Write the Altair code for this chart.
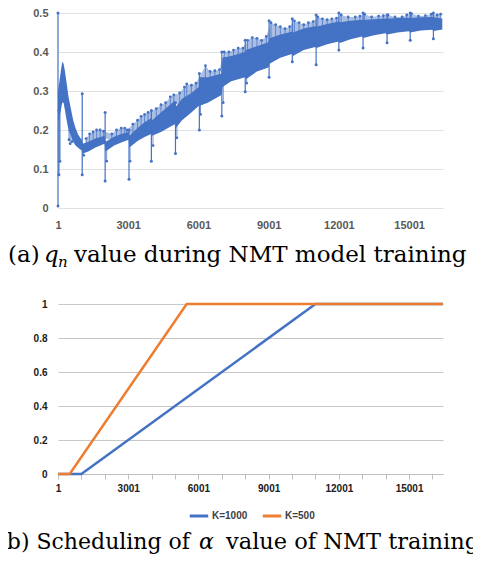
import altair as alt
import numpy as np
import pandas as pd

BLUE = "#4472C4"
ORANGE = "#ED7D31"

# ---------------- panel (a): q_n during training ----
band_step = [1, 50, 120, 180, 240, 300, 370, 450, 550, 650,
             750, 850, 950, 1020, 1050, 1300, 1600, 1990, 2030, 2400,
             2700, 3020, 3050, 3400, 3700, 3980, 4020, 4400, 4700, 4990,
             5040, 5300, 5700, 6020, 6060, 6400, 6700, 6990, 7030, 7400,
             7700, 7990, 8030, 8500, 8990, 9040, 9500, 9990, 10040, 10500,
             10990, 11040, 11500, 11990, 12040, 12500, 12990, 13040, 13500, 13990,
             14060, 14500, 14990, 15050, 15500, 15990, 16050, 16420]
band_lo = [0.22, 0.23, 0.25, 0.27, 0.27, 0.25, 0.225, 0.20, 0.185, 0.17,
           0.16, 0.155, 0.15, 0.148, 0.14, 0.145, 0.155, 0.165, 0.145, 0.16,
           0.168, 0.175, 0.155, 0.172, 0.182, 0.19, 0.185, 0.195, 0.205, 0.215,
           0.205, 0.225, 0.245, 0.262, 0.262, 0.27, 0.28, 0.29, 0.31, 0.325,
           0.33, 0.335, 0.33, 0.35, 0.36, 0.37, 0.385, 0.395, 0.39, 0.405,
           0.413, 0.41, 0.42, 0.427, 0.423, 0.433, 0.44, 0.436, 0.443, 0.448,
           0.445, 0.45, 0.453, 0.45, 0.455, 0.457, 0.454, 0.458]
band_hi = [0.30, 0.32, 0.35, 0.375, 0.37, 0.35, 0.32, 0.285, 0.255, 0.225,
           0.205, 0.19, 0.18, 0.175, 0.165, 0.17, 0.178, 0.185, 0.17, 0.183,
           0.19, 0.195, 0.185, 0.205, 0.22, 0.23, 0.225, 0.245, 0.26, 0.275,
           0.26, 0.28, 0.295, 0.31, 0.335, 0.335, 0.34, 0.345, 0.385, 0.39,
           0.395, 0.40, 0.405, 0.415, 0.425, 0.435, 0.445, 0.452, 0.45, 0.46,
           0.466, 0.465, 0.472, 0.478, 0.476, 0.48, 0.483, 0.482, 0.484, 0.486,
           0.485, 0.487, 0.488, 0.487, 0.489, 0.49, 0.489, 0.486]

# vertical jumps at epoch boundaries
jump_step = [1, 40, 80, 1035, 2015, 3035, 3990, 5020, 6040, 7000,
             8000, 9020, 10010, 11030, 12000, 13035, 14060, 15050, 16040]
jump_lo = [0.005, 0.085, 0.12, 0.085, 0.069, 0.074, 0.12, 0.14, 0.20, 0.236,
           0.298, 0.335, 0.375, 0.367, 0.405, 0.41, 0.424, 0.43, 0.434]
jump_hi = [0.5, 0.25, 0.28, 0.293, 0.245, 0.20, 0.25, 0.27, 0.345, 0.40,
           0.43, 0.48, 0.485, 0.495, 0.50, 0.50, 0.495, 0.50, 0.50]

# upward outliers
peak_step = [1200, 1350, 1500, 1650, 1800, 1950, 2300, 2500, 2700, 2850, 2950,
             3200, 3400, 3550, 3700, 3850, 4200, 4400, 4600, 4800, 4950,
             5200, 5400, 5500, 5700, 5900, 6300, 6500, 6700, 6900,
             7100, 7300, 7500, 7700, 7900, 8100, 8300, 8500, 8700, 8900,
             9100, 9300, 9500, 9700, 9900, 10100, 10300, 10500, 10700, 10900,
             11100, 11300, 11500, 11700, 11900, 12100, 12400, 12700, 12900,
             13100, 13400, 13700, 13900, 14100, 14400, 14700, 14900,
             15100, 15400, 15700, 15950, 16200, 16350]
peak_val = [0.178, 0.19, 0.195, 0.2, 0.2, 0.197, 0.19, 0.2, 0.205, 0.205, 0.2,
            0.215, 0.225, 0.235, 0.24, 0.245, 0.255, 0.265, 0.27, 0.285, 0.29,
            0.295, 0.31, 0.318, 0.315, 0.32, 0.365, 0.35, 0.352, 0.355,
            0.40, 0.40, 0.405, 0.41, 0.41, 0.43, 0.437, 0.435, 0.43, 0.44,
            0.475, 0.47, 0.465, 0.46, 0.465, 0.48, 0.475, 0.47, 0.475, 0.478,
            0.49, 0.485, 0.483, 0.485, 0.487, 0.495, 0.49, 0.49, 0.492,
            0.497, 0.49, 0.492, 0.493, 0.495, 0.49, 0.49, 0.495,
            0.498, 0.492, 0.493, 0.497, 0.495, 0.497]

# downward outliers
dip_step = [470, 520, 600, 1100, 2080, 3080, 4060, 5080, 6090, 7060, 8060]
dip_val = [0.175, 0.165, 0.17, 0.135, 0.12, 0.12, 0.16, 0.18, 0.24, 0.27, 0.32]

# ---------------- panel (b): alpha scheduling ----------------
k1000_step = [1, 1000, 11000, 16450]
k1000_val = [0, 0, 1, 1]
k500_step = [1, 500, 5500, 16450]
k500_val = [0, 0, 1, 1]
series_names = ["K=1000", "K=500"]

a_ticks = [0, 0.1, 0.2, 0.3, 0.4, 0.5]
b_ticks = [0, 0.2, 0.4, 0.6, 0.8, 1]
x_label_steps = [1, 3001, 6001, 9001, 12001, 15001]
x_tick_steps = list(range(1, 16002, 1000))
X_END = 16450

# ---------------- layout ----------------
PLOT_W, PLOT_H = 385, 466
A_BOTTOM, A_TOP = 200, 5
B_BOTTOM, B_TOP = 466, 296
LABEL_FONT = "Liberation Sans"

xa_scale = alt.Scale(domain=[1, X_END], nice=False, zero=False)
xb_scale = alt.Scale(domain=[1, X_END], nice=False, zero=False)
ya_scale = alt.Scale(domain=[0, 0.5], range=[A_BOTTOM, A_TOP], nice=False, zero=False)
yb_scale = alt.Scale(domain=[0, 1], range=[B_BOTTOM, B_TOP], nice=False, zero=False)

ax_a_x = alt.Axis(orient="bottom", values=x_label_steps, format="d", title=None,
                  ticks=False, domain=False, grid=False, labelFlush=False,
                  labelFont=LABEL_FONT, labelFontSize=11, labelFontWeight="bold",
                  labelColor="#595959", labelPadding=11, offset=A_BOTTOM - PLOT_H)
ax_a_y = alt.Axis(orient="left", values=a_ticks, format=".1~f", title=None,
                  ticks=False, domain=False, grid=True, gridColor="#e0e0e0",
                  labelFont=LABEL_FONT, labelFontSize=11, labelFontWeight="bold",
                  labelColor="#595959", labelPadding=10)
ax_b_x = alt.Axis(orient="bottom", values=x_tick_steps, format="d",
                  labelExpr="(datum.value - 1) % 3000 == 0 ? datum.label : ''",
                  title=None, ticks=True, tickSize=5, tickColor="#bfbfbf",
                  domain=True, domainColor="#bfbfbf", grid=False, labelFlush=False,
                  labelFont=LABEL_FONT, labelFontSize=10, labelFontWeight="bold",
                  labelColor="#202020", labelPadding=4)
ax_b_y = alt.Axis(orient="left", values=b_ticks, format=".1~f", title=None,
                  ticks=False, domain=False, grid=True, gridColor="#c8c8c8",
                  labelFont=LABEL_FONT, labelFontSize=10, labelFontWeight="bold",
                  labelColor="#202020", labelPadding=11)

df_band = pd.DataFrame({"step": band_step, "lo": band_lo, "hi": band_hi})
df_jump = pd.DataFrame({"step": jump_step, "lo": jump_lo, "hi": jump_hi})
df_jump_pts = pd.DataFrame({"step": jump_step + jump_step, "val": jump_lo + jump_hi})
peak_base = np.interp(peak_step, band_step, band_hi)
df_peak = pd.DataFrame({"step": peak_step, "hi": peak_val, "lo": peak_base - 0.005})
df_fuzz = pd.DataFrame({"step": peak_step, "hi": np.maximum(peak_val, peak_base),
                        "lo": peak_base - 0.005})
df_dip = pd.DataFrame({"step": dip_step, "lo": dip_val,
                       "hi": np.interp(dip_step, band_step, band_lo) + 0.005})
df_out_pts = pd.DataFrame({"step": peak_step + dip_step, "val": peak_val + dip_val})


def xa(field="step"):
    return alt.X(f"{field}:Q", scale=xa_scale, axis=ax_a_x)


def ya(field):
    return alt.Y(f"{field}:Q", scale=ya_scale, axis=ax_a_y)


fuzz = alt.Chart(df_fuzz).mark_area(color=BLUE, opacity=0.45).encode(
    x=xa(), y=ya("lo"), y2="hi")
band = alt.Chart(df_band).mark_area(color=BLUE, opacity=1).encode(
    x=xa(), y=ya("lo"), y2="hi")
jump_rules = alt.Chart(df_jump).mark_rule(color=BLUE, strokeWidth=1.2).encode(
    x=xa(), y=ya("lo"), y2="hi")
peak_rules = alt.Chart(df_peak).mark_rule(color=BLUE, strokeWidth=0.9, opacity=0.85).encode(
    x=xa(), y=ya("lo"), y2="hi")
dip_rules = alt.Chart(df_dip).mark_rule(color=BLUE, strokeWidth=0.9, opacity=0.85).encode(
    x=xa(), y=ya("lo"), y2="hi")
jump_pts = alt.Chart(df_jump_pts).mark_circle(color=BLUE, size=9, opacity=1).encode(
    x=xa(), y=ya("val"))
out_pts = alt.Chart(df_out_pts).mark_circle(color=BLUE, size=8, opacity=1).encode(
    x=xa(), y=ya("val"))

panel_a = alt.layer(fuzz, band, peak_rules, dip_rules, jump_rules, out_pts, jump_pts)

df_b = pd.DataFrame({
    "step": k1000_step + k500_step,
    "val": k1000_val + k500_val,
    "series": [series_names[0]] * len(k1000_step) + [series_names[1]] * len(k500_step),
})
panel_b = alt.Chart(df_b).mark_line(strokeWidth=2.5).encode(
    x=alt.X("step:Q", scale=xb_scale, axis=ax_b_x),
    y=alt.Y("val:Q", scale=yb_scale, axis=ax_b_y),
    color=alt.Color("series:N",
                    scale=alt.Scale(domain=series_names, range=[BLUE, ORANGE]),
                    legend=alt.Legend(orient="none", legendX=130, legendY=497,
                                      direction="horizontal", title=None,
                                      symbolType="stroke", symbolStrokeWidth=3,
                                      symbolSize=340, labelFont=LABEL_FONT,
                                      labelFontSize=10, labelFontWeight="bold",
                                      labelColor="#404040", labelOffset=2,
                                      columnPadding=8, padding=0)),
)

CAP_FONT = "DejaVu Serif"


def cap(text, x, y, size=23, style="normal", align="left"):
    return alt.Chart(alt.Data(values=[{}])).mark_text(
        text=text, align=align, baseline="alphabetic", font=CAP_FONT,
        fontSize=size, fontStyle=style, color="black"
    ).encode(x=alt.value(x), y=alt.value(y))


captions = [
    cap("(a)", -50, 254),
    cap("q", -14, 254, style="italic"),
    cap("n", 0, 259, size=15, style="italic"),
    cap("value during NMT model training", 16, 254),
    cap("(b) Scheduling of", 132, 541, size=22, align="right"),
    cap("α", 141, 541, size=22, style="italic"),
    cap("value of NMT training", 168, 541, size=22.5),
]

chart = alt.layer(panel_a, panel_b, *captions).resolve_scale(
    x="independent", y="independent", color="independent"
).properties(
    width=PLOT_W, height=PLOT_H,
    autosize=alt.AutoSizeParams(type="none"),
    padding={"left": 50, "top": 0, "right": 30, "bottom": 84},
).configure_view(stroke=None)

chart.save("out.html", embed_options={"renderer": "svg", "actions": False})
